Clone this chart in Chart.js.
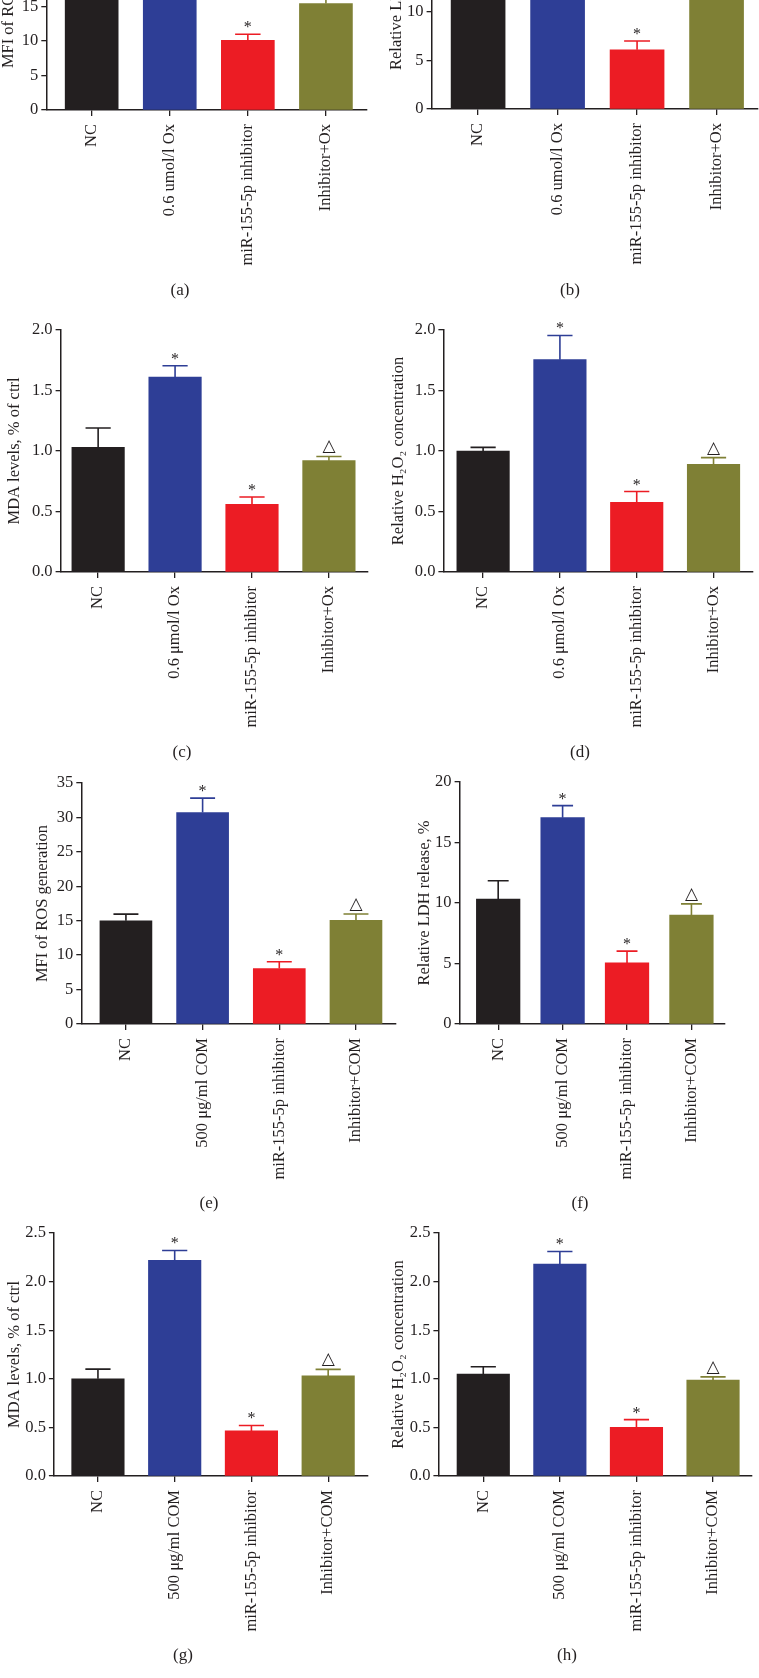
<!DOCTYPE html>
<html>
<head>
<meta charset="utf-8">
<script src="https://cdn.jsdelivr.net/npm/chart.js@4.4.1/dist/chart.umd.min.js"></script>
<style>
  html, body { margin: 0; padding: 0; background: #fff; }
  body { width: 759px; height: 1678px; position: relative; overflow: hidden; }
  canvas { position: absolute; }
  .tag { position: absolute; font: 17px "Liberation Serif", serif; color: #231f20; transform: translate(-50%, -50%); white-space: nowrap; }
</style>
</head>
<body>
<script>
// categories
const oxLabels = ["NC", "0.6 umol/l Ox", "miR-155-5p inhibitor", "Inhibitor+Ox"];
const oxLabelsMu = ["NC", "0.6 μmol/l Ox", "miR-155-5p inhibitor", "Inhibitor+Ox"];
const comLabels = ["NC", "500 μg/ml COM", "miR-155-5p inhibitor", "Inhibitor+COM"];
const marks = ["", "*", "*", "△"];

// values (mean) and upper error
const rosOx = [16.5, 28.5, 10.1, 15.45];
const rosOxErr = [1.2, 2.0, 0.9, 1.3];
const ldhOx = [12.5, 18.5, 6.1, 12.0];
const ldhOxErr = [1.3, 1.2, 0.9, 0.9];
const mdaOx = [1.03, 1.61, 0.56, 0.92];
const mdaOxErr = [0.16, 0.095, 0.06, 0.035];
const h2o2Ox = [1.0, 1.755, 0.575, 0.89];
const h2o2OxErr = [0.03, 0.2, 0.09, 0.055];
const rosCom = [15.0, 30.7, 8.05, 15.07];
const rosComErr = [0.95, 2.1, 0.98, 0.9];
const ldhCom = [10.32, 17.05, 5.05, 9.0];
const ldhComErr = [1.52, 1.0, 0.97, 0.93];
const mdaCom = [1.0, 2.22, 0.464, 1.03];
const mdaComErr = [0.1, 0.1, 0.056, 0.067];
const h2o2Com = [1.048, 2.18, 0.5, 0.986];
const h2o2ComErr = [0.076, 0.13, 0.08, 0.034];

const colors = ["#231f20", "#2e3e96", "#ec1c24", "#7f8035"];
const ink = "#231f20";
const serif = "'Liberation Serif', 'DejaVu Serif', serif";

// layout of each panel in page pixels
const panels = [
  { labels: oxLabels, vals: rosOx, errs: rosOxErr, title: "MFI of ROS generation", max: 35, step: 5, dec: 0,
    titleX: 9, axisX: 46.7, baseY: 109.5, topY: -131.3, rightX: 367, xMin: 0.419, xMax: 4.526, barW: 53, tag: "(a)", tagX: 180, tagY: 290 },
  { labels: oxLabels, vals: ldhOx, errs: ldhOxErr, title: "Relative LDH release, %", max: 25, step: 5, dec: 0,
    titleX: 396.7, axisX: 431.7, baseY: 109, topY: -134, rightX: 757.5, xMin: 0.415, xMax: 4.515, barW: 54, tag: "(b)", tagX: 570, tagY: 290 },
  { labels: oxLabelsMu, vals: mdaOx, errs: mdaOxErr, title: "MDA levels, % of ctrl", max: 2, step: 0.5, dec: 1,
    titleX: 15, axisX: 61, baseY: 571.7, topY: 330, rightX: 368, xMin: 0.512, xMax: 4.508, barW: 52.5, tag: "(c)", tagX: 182, tagY: 752 },
  { labels: oxLabelsMu, vals: h2o2Ox, errs: h2o2OxErr, title: "Relative H₂O₂ concentration", max: 2, step: 0.5, dec: 1,
    titleX: 398.5, axisX: 443.3, baseY: 572, topY: 330, rightX: 752.7, xMin: 0.483, xMax: 4.51, barW: 52.5, tag: "(d)", tagX: 580, tagY: 752 },
  { labels: comLabels, vals: rosCom, errs: rosComErr, title: "MFI of ROS generation", max: 35, step: 5, dec: 0,
    titleX: 43, axisX: 81.7, baseY: 1023.3, topY: 782.7, rightX: 396, xMin: 0.418, xMax: 4.522, barW: 52, tag: "(e)", tagX: 209, tagY: 1203 },
  { labels: comLabels, vals: ldhCom, errs: ldhComErr, title: "Relative LDH release, %", max: 20, step: 5, dec: 0,
    titleX: 425, axisX: 460, baseY: 1023.7, topY: 781.7, rightX: 725, xMin: 0.401, xMax: 4.521, barW: 43.6, tag: "(f)", tagX: 580, tagY: 1203 },
  { labels: comLabels, vals: mdaCom, errs: mdaComErr, title: "MDA levels, % of ctrl", max: 2.5, step: 0.5, dec: 1,
    titleX: 15, axisX: 54.3, baseY: 1475.7, topY: 1233, rightX: 368.3, xMin: 0.426, xMax: 4.519, barW: 52.5, tag: "(g)", tagX: 183, tagY: 1655 },
  { labels: comLabels, vals: h2o2Com, errs: h2o2ComErr, title: "Relative H₂O₂ concentration", max: 2.5, step: 0.5, dec: 1,
    titleX: 398.5, axisX: 438.3, baseY: 1475.7, topY: 1233, rightX: 751.7, xMin: 0.414, xMax: 4.505, barW: 52.5, tag: "(h)", tagX: 567, tagY: 1655 },
];

const padTop = 14;
const xAxisH = 175;

const errorBars = {
  id: "errBars",
  afterDatasetsDraw(chart, args, opts) {
    const { ctx, scales: { y } } = chart;
    const pts = chart.data.datasets[0].data;
    ctx.save();
    chart.getDatasetMeta(0).data.forEach((bar, i) => {
      const top = y.getPixelForValue(pts[i].y + opts.errors[i]);
      const half = bar.width * 0.24;
      ctx.strokeStyle = colors[i];
      ctx.lineWidth = 1.6;
      ctx.beginPath();
      ctx.moveTo(bar.x, bar.y);
      ctx.lineTo(bar.x, top);
      ctx.moveTo(bar.x - half, top);
      ctx.lineTo(bar.x + half, top);
      ctx.stroke();

      const m = opts.marks[i];
      ctx.fillStyle = ink;
      ctx.textAlign = "center";
      ctx.textBaseline = "alphabetic";
      if (m === "*") {
        ctx.font = "16px " + serif;
        ctx.fillText(m, bar.x, top - 2);
      } else if (m) {
        ctx.font = "17px 'DejaVu Sans', sans-serif";
        ctx.fillText(m, bar.x, top - 5);
      }
    });
    ctx.restore();
  },
};

panels.forEach((p) => {
  const left = p.titleX - 9.6;
  const yW = p.axisX - left;
  const padRight = Math.min(8, 759 - p.rightX);
  const w = Math.round(p.rightX - left + padRight);
  const h = Math.round(p.baseY - p.topY + padTop + xAxisH);
  const top = p.topY - padTop;

  const cv = document.createElement("canvas");
  cv.width = w;
  cv.height = h;
  cv.style.left = left + "px";
  cv.style.top = top + "px";
  cv.style.width = w + "px";
  cv.style.height = h + "px";
  document.body.appendChild(cv);

  const tag = document.createElement("div");
  tag.className = "tag";
  tag.textContent = p.tag;
  tag.style.left = p.tagX + "px";
  tag.style.top = p.tagY + "px";
  document.body.appendChild(tag);

  new Chart(cv.getContext("2d"), {
    type: "bar",
    data: {
      datasets: [{
        data: p.vals.map((v, i) => ({ x: i + 1, y: v })),
        backgroundColor: colors,
        barThickness: p.barW,
        borderWidth: 0,
      }],
    },
    options: {
      responsive: false,
      animation: false,
      devicePixelRatio: 1,
      layout: { padding: { top: padTop, right: padRight, left: 0, bottom: 0 } },
      plugins: {
        legend: { display: false },
        tooltip: { enabled: false },
        errBars: { errors: p.errs, marks: marks },
      },
      scales: {
        x: {
          type: "linear",
          offset: false,
          min: p.xMin,
          max: p.xMax,
          afterBuildTicks: (s) => { s.ticks = [1, 2, 3, 4].map((v) => ({ value: v })); },
          afterFit: (s) => { s.height = xAxisH; },
          grid: { offset: false, drawOnChartArea: false, drawTicks: true, tickLength: 6, color: ink, lineWidth: 1.3 },
          border: { display: true, color: ink, width: 1.5 },
          ticks: {
            autoSkip: false,
            minRotation: 90,
            maxRotation: 90,
            padding: 8,
            color: ink,
            font: { family: serif, size: 16.5 },
            callback: (v) => p.labels[v - 1],
          },
        },
        y: {
          min: 0,
          max: p.max,
          afterFit: (s) => { s.width = yW; },
          grid: { drawOnChartArea: false, drawTicks: true, tickLength: 5, color: ink, lineWidth: 1.3 },
          border: { display: true, color: ink, width: 1.5 },
          ticks: {
            stepSize: p.step,
            padding: 3,
            color: ink,
            font: { family: serif, size: 16.5 },
            callback: (v) => v.toFixed(p.dec),
          },
          title: {
            display: true,
            text: p.title,
            color: ink,
            padding: 0,
            font: { family: serif, size: 16.5 },
          },
        },
      },
    },
    plugins: [errorBars],
  });
});
</script>
</body>
</html>
